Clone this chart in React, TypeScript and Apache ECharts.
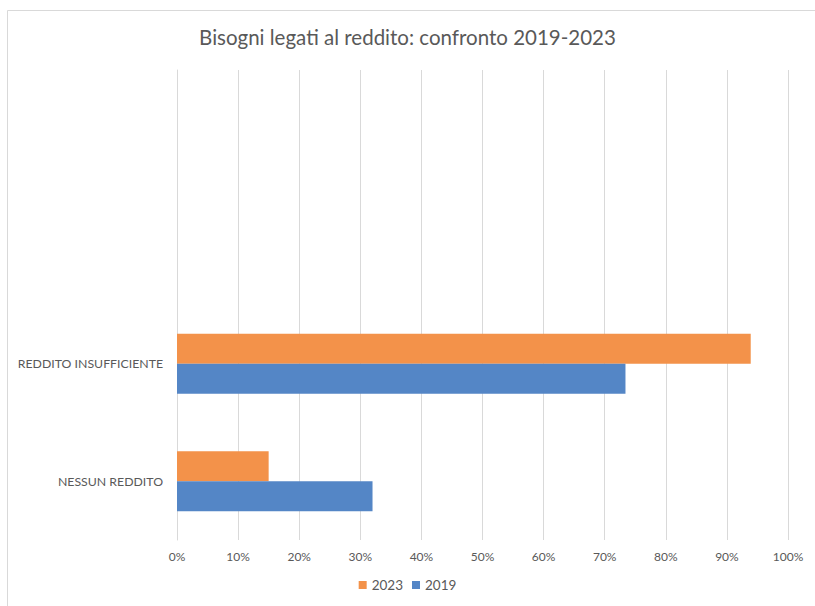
import React, { useEffect, useRef } from "react";
import * as echarts from "echarts";

const categories = ["NESSUN REDDITO", "REDDITO INSUFFICIENTE", "", ""];
const values2023 = [0.15, 0.939, null, null];
const values2019 = [0.32, 0.734, null, null];
const legendOrder = ["2023", "2019"];
const titleText = "Bisogni legati al reddito: confronto 2019-2023";

export default function App() {
  const ref = useRef<HTMLDivElement>(null);
  useEffect(() => {
    if (!ref.current) return;
    const chart = echarts.init(ref.current, undefined, { renderer: "svg" });
    const font = "Lato, 'Open Sans', sans-serif";
    chart.setOption({
      animation: false,
      backgroundColor: "#ffffff",
      textStyle: { fontFamily: font },
      title: {
        text: titleText,
        left: "center",
        top: 21,
        textStyle: { fontFamily: font, fontSize: 20.5, fontWeight: "normal", color: "#595959" },
      },
      graphic: [
        {
          type: "rect",
          shape: { x: 7.5, y: 10.5, width: 900, height: 700 },
          style: { fill: "none", stroke: "#D9D9D9", lineWidth: 1 },
          silent: true,
        },
      ],
      legend: {
        data: legendOrder,
        bottom: 9,
        left: "center",
        icon: "rect",
        itemWidth: 8,
        itemHeight: 8,
        itemGap: 9,
        textStyle: { fontFamily: font, fontSize: 13.5, color: "#595959" },
      },
      grid: { left: 177, right: 27, top: 70, bottom: 66, containLabel: false },
      xAxis: {
        type: "value",
        min: 0,
        max: 1,
        interval: 0.1,
        axisLine: { show: false },
        axisTick: { show: false },
        splitLine: { show: true, lineStyle: { color: "#D9D9D9", width: 1 } },
        axisLabel: {
          formatter: (v: number) => `${Math.round(v * 100)}%`,
          color: "#595959",
          fontSize: 12,
          margin: 10,
          fontFamily: font,
        },
      },
      yAxis: {
        type: "category",
        data: categories,
        axisLine: { show: true, lineStyle: { color: "#D9D9D9", width: 1 } },
        axisTick: { show: false },
        axisLabel: { color: "#595959", fontSize: 12.3, margin: 14, fontFamily: font },
      },
      series: [
        {
          name: "2023",
          type: "bar",
          data: values2023,
          barWidth: 30,
          barGap: "0%",
          itemStyle: { color: "#F3924A" },
        },
        {
          name: "2019",
          type: "bar",
          data: values2019,
          barWidth: 30,
          barGap: "0%",
          itemStyle: { color: "#5486C6" },
        },
      ],
    });
    return () => chart.dispose();
  }, []);
  return (
    <div
      ref={ref}
      style={{ position: "fixed", left: 0, top: 0, width: 815, height: 606 }}
    />
  );
}
